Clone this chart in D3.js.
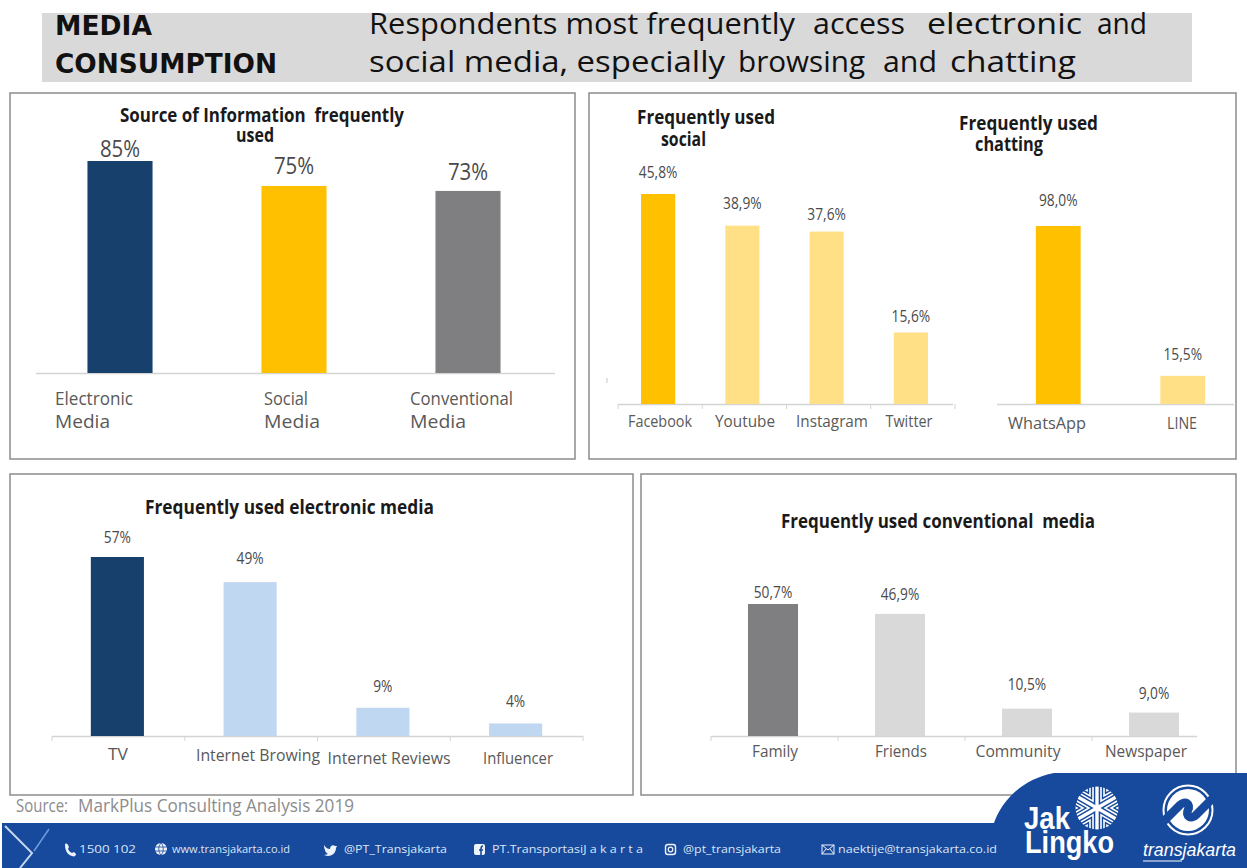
<!DOCTYPE html>
<html>
<head>
<meta charset="utf-8">
<script src="https://cdn.jsdelivr.net/npm/d3@7"></script>
<style>
html,body{margin:0;padding:0;background:#fff;overflow:hidden}
text{font-family:"Open Sans",sans-serif;white-space:pre}
</style>
</head>
<body>
<svg id="chart" width="1247" height="868"></svg>
<script>
const NAVY = "#17406d", AMBER = "#ffc000", PALE_AMBER = "#ffe086",
      GREY = "#7f7f82", PALE_GREY = "#d9d9d9", PALE_BLUE = "#c0d7f1";

const sourceCategories = [["Electronic","Media"],["Social","Media"],["Conventional","Media"]];
const sourceValues = [85,75,73];
const sourceLabels = ["85%","75%","73%"];
const sourceColors = [NAVY,AMBER,GREY];

const socialCategories = [["Facebook"],["Youtube"],["Instagram"],["Twitter"]];
const socialValues = [45.8,38.9,37.6,15.6];
const socialLabels = ["45,8%","38,9%","37,6%","15,6%"];
const socialColors = [AMBER,PALE_AMBER,PALE_AMBER,PALE_AMBER];

const chatCategories = [["WhatsApp"],["LINE"]];
const chatValues = [98.0,15.5];
const chatLabels = ["98,0%","15,5%"];
const chatColors = [AMBER,PALE_AMBER];

const electronicCategories = [["TV"],["Internet Browing"],["Internet Reviews"],["Influencer"]];
const electronicValues = [57,49,9,4];
const electronicLabels = ["57%","49%","9%","4%"];
const electronicColors = [NAVY,PALE_BLUE,PALE_BLUE,PALE_BLUE];

const conventionalCategories = [["Family"],["Friends"],["Community"],["Newspaper"]];
const conventionalValues = [50.7,46.9,10.5,9.0];
const conventionalLabels = ["50,7%","46,9%","10,5%","9,0%"];
const conventionalColors = [GREY,PALE_GREY,PALE_GREY,PALE_GREY];

const svg = d3.select("#chart");

// Header band
svg.append("rect").attr("x",42).attr("y",13).attr("width",1150).attr("height",69).attr("fill","#d9d9d9");
const heading = (x,y,t,size,w,weight) => svg.append("text").attr("x",x).attr("y",y)
  .attr("font-size",size).attr("font-weight",weight||400).attr("fill","#111")
  .attr("textLength",w).attr("lengthAdjust","spacingAndGlyphs").text(t);
heading(55,35,"MEDIA",26,97,700).style("font-family","'DejaVu Sans',sans-serif");
heading(55,73,"CONSUMPTION",26,222,700).style("font-family","'DejaVu Sans',sans-serif");
// The headline is set in runs so its uneven word gaps are kept
[[369,426,"Respondents most frequently"],[813,92,"access"],[927,155,"electronic"],[1097,50,"and"]]
  .forEach(([x,w,t]) => heading(x,34,t,30,w));
[[369,356,"social media, especially"],[738,127,"browsing"],[883,54,"and"],[950,126,"chatting"]]
  .forEach(([x,w,t]) => heading(x,72,t,30,w));

// Panel frames
[[10,93,565,366],[589,93,647,366],[10,474,623,321],[641,474,595,321]].forEach(([x,y,w,h]) =>
  svg.append("rect").attr("x",x).attr("y",y).attr("width",w).attr("height",h)
    .attr("fill","#fff").attr("stroke","#8c8c8c").attr("stroke-width",1.5));

// One bar chart: band scale along the axis, linear scale up from the baseline
function barChart(o){
  const n = o.values.length;
  const x = d3.scaleBand().domain(d3.range(n)).range(o.bandRange)
    .paddingInner(o.padding).paddingOuter(o.padding/2);
  const y = d3.scaleLinear().domain([0,o.max]).range([o.base,o.top]);
  const g = svg.append("g");
  const [a0,a1] = o.axisRange;
  g.append("line").attr("x1",a0).attr("x2",a1).attr("y1",o.base+.5).attr("y2",o.base+.5)
    .attr("stroke","#d4d4d4").attr("stroke-width",1.3);
  if (o.ticks) {
    // separators repeat at the band step from the axis start
    const tickPositions = d3.range(n+1).map(i => a0+i*x.step()).filter(p => p <= a1+3);
    g.selectAll("line.sep").data(tickPositions).join("line").attr("class","sep")
      .attr("x1",p=>p).attr("x2",p=>p)
      .attr("y1",o.base).attr("y2",o.base+5).attr("stroke","#d4d4d4").attr("stroke-width",1);
  }
  g.selectAll("rect.bar").data(o.values).join("rect").attr("class","bar")
    .attr("x",(d,i)=>x(i)).attr("width",x.bandwidth())
    .attr("y",d=>y(d)).attr("height",d=>o.base-y(d)).attr("fill",(d,i)=>o.colors[i]);
  g.selectAll("text.val").data(o.values).join("text").attr("class","val")
    .attr("x",(d,i)=>x(i)+x.bandwidth()/2).attr("y",(d,i)=>y(d)-o.valGaps[i])
    .attr("text-anchor","middle").attr("font-size",o.valSize).attr("fill","#4a4a4a")
    .attr("transform",(d,i)=>`translate(${(x(i)+x.bandwidth()/2)*(1-o.valStretch)},0) scale(${o.valStretch},1)`)
    .text((d,i)=>o.labels[i]);
  o.cats.forEach((lines,i)=>{
    lines.forEach((t,j)=>{
      g.append("text").attr("x",o.catX[i]).attr("y",o.catY[i]+j*23)
        .attr("text-anchor",o.catAnchor||"middle").attr("font-size",o.catSize).attr("fill","#595959")
        .attr("textLength",o.catW[i][j]).attr("lengthAdjust","spacingAndGlyphs").text(t);
    });
  });
}

barChart({values:sourceValues,labels:sourceLabels,colors:sourceColors,cats:sourceCategories,
  bandRange:[33,555],axisRange:[36,555],padding:.626,base:373,top:161,max:85,valGaps:[4,12,11],valSize:24,valStretch:.85,
  catX:[55,264,410],catY:[405,405,405],catW:[[78,55],[44,56],[103,56]],catAnchor:"start",catSize:19});
barChart({values:socialValues,labels:socialLabels,colors:socialColors,cats:socialCategories,
  bandRange:[616,953],axisRange:[618,953],ticks:true,padding:.595,base:404,top:194,max:45.8,valGaps:[16,17,12,10],valSize:16,valStretch:.86,
  catX:[660,745,832,909],catY:[427,427,427,427],catW:[[64],[60],[72],[47]],catSize:16});
barChart({values:chatValues,labels:chatLabels,colors:chatColors,cats:chatCategories,
  bandRange:[996,1245],axisRange:[997,1234],padding:.64,base:404,top:226,max:98,valGaps:[20,16],valSize:16,valStretch:.86,
  catX:[1047,1182],catY:[429,429],catW:[[78],[30]],catSize:16});
barChart({values:electronicValues,labels:electronicLabels,colors:electronicColors,cats:electronicCategories,
  bandRange:[51,582],axisRange:[52,583],ticks:true,padding:.6,base:736,top:557,max:57,valGaps:[14,18,16,16],valSize:16,valStretch:.86,
  catX:[118,258,389,518],catY:[760,761,764,764],catW:[[20],[124],[123],[70]],catSize:16});
barChart({values:conventionalValues,labels:conventionalLabels,colors:conventionalColors,cats:conventionalCategories,
  bandRange:[709.5,1217.5],axisRange:[711,1197],ticks:true,padding:.606,base:736,top:604,max:50.7,valGaps:[6,14,19,14],valSize:16,valStretch:.86,
  catX:[775,901,1018,1146],catY:[757,757,757,757],catW:[[46],[52],[85],[82]],catSize:16});

// Stray axis remnant beside the social chart
svg.append("line").attr("x1",607).attr("x2",607).attr("y1",378).attr("y2",383).attr("stroke","#c8c8c8");

// Panel titles
const title = (x,y,t,w) => svg.append("text").attr("x",x).attr("y",y).attr("font-size",19).attr("font-weight",700)
  .attr("fill","#1a1a1a").attr("textLength",w).attr("lengthAdjust","spacingAndGlyphs").text(t);
title(120,122,"Source of Information  frequently",284);
title(236,142,"used",38);
title(637,124,"Frequently used",138);
title(661,146,"social",45);
title(959,130,"Frequently used",139);
title(975,151,"chatting",68);
title(145,514,"Frequently used electronic media",289);
title(781,528,"Frequently used conventional  media",314);

// Source line
[[16,52,"Source:"],[78,276,"MarkPlus Consulting Analysis 2019"]].forEach(([x,w,t]) =>
  svg.append("text").attr("x",x).attr("y",812).attr("font-size",17.5).attr("fill","#8c8c8c")
    .attr("textLength",w).attr("lengthAdjust","spacingAndGlyphs").text(t));

// Footer band with the curved logo tab
const BLUE = "#17499c";
svg.append("path").attr("fill",BLUE)
  .attr("d","M2,823H994C1000,805 1018,780 1054,773H1247V868H2Z");
svg.append("path").attr("fill","none").attr("stroke","#6f9cdc").attr("stroke-width",1.5).attr("d","M49,829L34,851");
svg.append("path").attr("fill","none").attr("stroke","#c5d6ee").attr("stroke-width",2).attr("d","M5,826L32,853L20,868");

// Contact strip: small drawn icon followed by its text
const contacts = [
  [79,"1500 102",57],
  [172,"www.transjakarta.co.id",118],
  [344,"@PT_Transjakarta",103],
  [492,"PT.TransportasiJ a k a r t a",151],
  [683,"@pt_transjakarta",98],
  [838,"naektije@transjakarta.co.id",159]
];
contacts.forEach(([x,t,w]) => {
  svg.append("text").attr("x",x).attr("y",853).attr("font-size",11).attr("fill","#dbe6f5")
    .attr("textLength",w).attr("lengthAdjust","spacingAndGlyphs").text(t);
});
const ICON = "#eef3fb";
const icons = svg.append("g");
icons.append("path").attr("fill",ICON).attr("d","M65,845C65,843 67,843 68,845L69,847L68,849C69,851 70,852 72,853L74,852L76,854C76,856 74,857 72,856C68,855 65,851 65,845Z");
icons.append("circle").attr("cx",161).attr("cy",849).attr("r",6).attr("fill",ICON);
icons.append("path").attr("fill","none").attr("stroke",BLUE).attr("stroke-width",.8).attr("d","M155,847H167M155,851H167M161,843C158,846 158,852 161,855C164,852 164,846 161,843");
icons.append("path").attr("fill",ICON).attr("d","M324,845C326,848 328,849 330,849C330,846 333,844 335,846L337,846L336,848C336,853 332,856 328,856C326,856 325,855 324,855C326,855 327,854 328,854C326,853 325,851 325,850C324,848 324,846 324,845Z");
icons.append("rect").attr("x",474).attr("y",844).attr("width",11).attr("height",11).attr("rx",2).attr("fill",ICON);
icons.append("path").attr("fill","none").attr("stroke",BLUE).attr("stroke-width",1.6).attr("d","M481,855V849C481,847 482,846 483,846M479,850H483");
icons.append("rect").attr("x",665.5).attr("y",844.5).attr("width",10).attr("height",10).attr("rx",2.5).attr("fill","none").attr("stroke",ICON).attr("stroke-width",1.4);
icons.append("circle").attr("cx",670.5).attr("cy",849.5).attr("r",2.3).attr("fill","none").attr("stroke",ICON).attr("stroke-width",1.2);
icons.append("rect").attr("x",822).attr("y",845).attr("width",12).attr("height",9).attr("fill","none").attr("stroke",ICON).attr("stroke-width",1);
icons.append("path").attr("fill","none").attr("stroke",ICON).attr("stroke-width",1).attr("d","M822,845L828,850L834,845M822,854L826,849M834,854L830,849");

// Logos
const logoWord = (x,y,t,size,w,style) => svg.append("text").attr("x",x).attr("y",y).attr("font-size",size)
  .attr("font-weight",700).attr("fill","#fff").attr("textLength",w).attr("lengthAdjust","spacingAndGlyphs")
  .style("font-family","'Liberation Sans',sans-serif").attr("font-style",style||"normal").text(t);
logoWord(1024,829,"Jak",31,46);
logoWord(1025,853,"Lingko",31,89);

// JakLingko emblem: six spokes with nested chevrons between them
const star = svg.append("g").attr("transform","translate(1097,808)").attr("fill","none").attr("stroke","#fff");
star.append("defs").append("clipPath").attr("id","emblemClip").append("circle").attr("r",21.5);
const emblem = star.append("g").attr("clip-path","url(#emblemClip)");
d3.range(6).forEach(i => {
  const spoke = i*Math.PI/3 + Math.PI/2;
  emblem.append("line").attr("x2",Math.cos(spoke)*22).attr("y2",Math.sin(spoke)*22).attr("stroke-width",3.4);
  const mid = spoke + Math.PI/6;
  [8,14,20].forEach(r => {
    const apex = [Math.cos(mid)*r,Math.sin(mid)*r];
    const out = a => [apex[0]+Math.cos(a)*14,apex[1]+Math.sin(a)*14];
    emblem.append("path").attr("stroke-width",1.6)
      .attr("d",d3.line()([out(spoke),apex,out(spoke+Math.PI/3)]));
  });
});

// Transjakarta roundel: a ring around two solid halves split by a blue S-band
const round = svg.append("g").attr("transform","translate(1188,810)");
round.append("circle").attr("r",24.5).attr("fill","none").attr("stroke","#fff").attr("stroke-width",2);
round.append("circle").attr("r",21).attr("fill","#fff");
round.append("path").attr("fill","none").attr("stroke",BLUE).attr("stroke-width",8.5).attr("stroke-linejoin","round")
  .attr("d","M-25,12L-8,-5C-3,-10 3,-6 0,0C-3,6 3,10 8,5L25,-12");
logoWord(1143,856,"transjakarta",18,93,"italic").attr("font-weight",400);
svg.append("line").attr("x1",1143).attr("x2",1182).attr("y1",861).attr("y2",861).attr("stroke","#fff").attr("stroke-width",1);
</script>
</body>
</html>
